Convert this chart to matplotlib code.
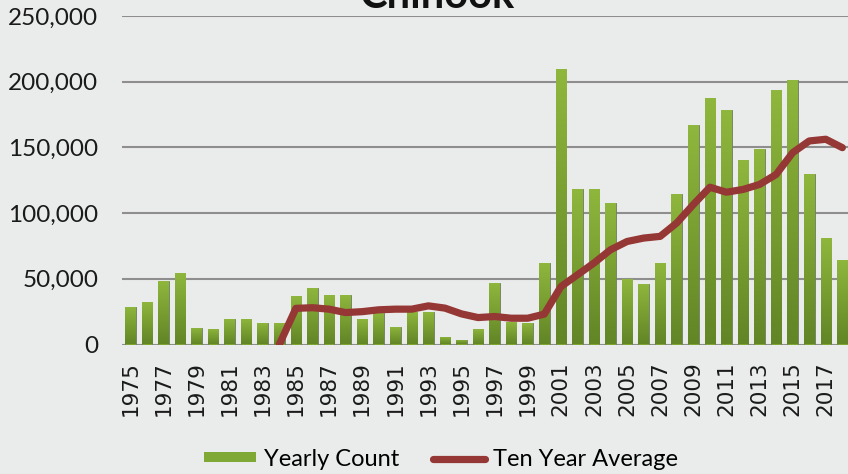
import numpy as np
import matplotlib
matplotlib.use("Agg")
import matplotlib.pyplot as plt
from matplotlib.ticker import FuncFormatter
from matplotlib.patches import Patch
from matplotlib.lines import Line2D

# data
years = list(range(1975, 2019))
yearly_count = [
    28400, 32400, 48600, 54700, 12700, 11900, 19500, 19500, 16700, 16700,
    36900, 42700, 37600, 37600, 19200, 23700, 13000, 25000, 24500, 5500,
    3400, 11500, 46600, 17500, 16000, 62200, 209500, 118700, 118700, 107800,
    49500, 45700, 62200, 114900, 167300, 187900, 178200, 140200, 149100, 193900,
    201500, 130100, 80700, 64200,
]
ten_year_avg = [
    np.nan, np.nan, np.nan, np.nan, np.nan, np.nan, np.nan, np.nan, np.nan, 0,
    27500, 28000, 26900, 24300, 25000, 26400, 26900, 26900, 29400, 27700,
    23300, 20500, 21300, 20000, 20000, 23100, 44000, 53000, 62000, 72100,
    78400, 81000, 82300, 92500, 106500, 119700, 115900, 118000, 121800, 129400,
    146000, 154900, 156200, 149800,
]
y_ticks = [0, 50000, 100000, 150000, 200000, 250000]
x_tick_years = years[::2]

BG = "#eaeceb"
GRID = "#8e8e8e"
LINE_RED = "#953735"

fig = plt.figure(figsize=(8.48, 4.74), dpi=100, facecolor=BG)
ax = fig.add_axes([122 / 848, 129.5 / 474, 1 - 122 / 848, 328.5 / 474])
ax.set_facecolor("none")

bars = ax.bar(years, yearly_count, width=0.64, color="#7ea532",
              edgecolor="#6f7d5e", linewidth=0.6, zorder=3)

# vertical green gradient inside every bar
grad = np.linspace(0, 1, 64).reshape(-1, 1)
top = np.array([143, 183, 61]) / 255
bottom = np.array([98, 133, 38]) / 255
img = top + (bottom - top) * grad[..., None]
for b in bars:
    x0, y0 = b.get_x(), b.get_y()
    im = ax.imshow(img, extent=[x0, x0 + b.get_width(), y0, y0 + b.get_height()],
                   aspect="auto", origin="upper", zorder=3.5, interpolation="bilinear")
    im.set_clip_path(b)

ax.plot(years, ten_year_avg, color=LINE_RED, lw=5.2, solid_capstyle="round",
        solid_joinstyle="round", zorder=5)

ax.set_xlim(1974.5, 1974.5 + 726 / 16.56)
ax.set_ylim(0, 250000)
ax.set_yticks(y_ticks)
ax.yaxis.set_major_formatter(FuncFormatter(lambda v, p: f"{int(v):,}"))
ax.set_xticks(x_tick_years)
ax.set_xticklabels([str(y) for y in x_tick_years], rotation=90,
                   fontsize=15.5, family="DejaVu Sans", color="#1a1a1a")
for lab in ax.get_yticklabels():
    lab.set_fontfamily("Lato")
    lab.set_fontsize(17.5)
    lab.set_color("#1a1a1a")
ax.tick_params(axis="x", length=0, pad=12)
ax.tick_params(axis="y", length=0, pad=17)
ax.yaxis.grid(True, color=GRID, lw=1.5, zorder=1)
ax.set_axisbelow(True)
for s in ax.spines.values():
    s.set_visible(False)

fig.text(437 / 848, 1 - 8 / 474, "Chinook", ha="center", va="baseline",
         fontsize=30, fontweight="bold", family="Lato", color="#111111")

handles = [
    Patch(facecolor="#80a834", edgecolor="none"),
    Line2D([0], [0], color=LINE_RED, lw=5.2, solid_capstyle="round"),
]
fig.legend(handles, ["Yearly Count", "Ten Year Average"], loc="center",
           bbox_to_anchor=(441 / 848, 1 - 459 / 474), ncol=2, frameon=False,
           prop={"family": "Lato", "size": 17}, handlelength=2.2,
           handleheight=0.3, handletextpad=0.35, columnspacing=1.4)

fig.savefig("out.png", dpi=100, facecolor=BG)
